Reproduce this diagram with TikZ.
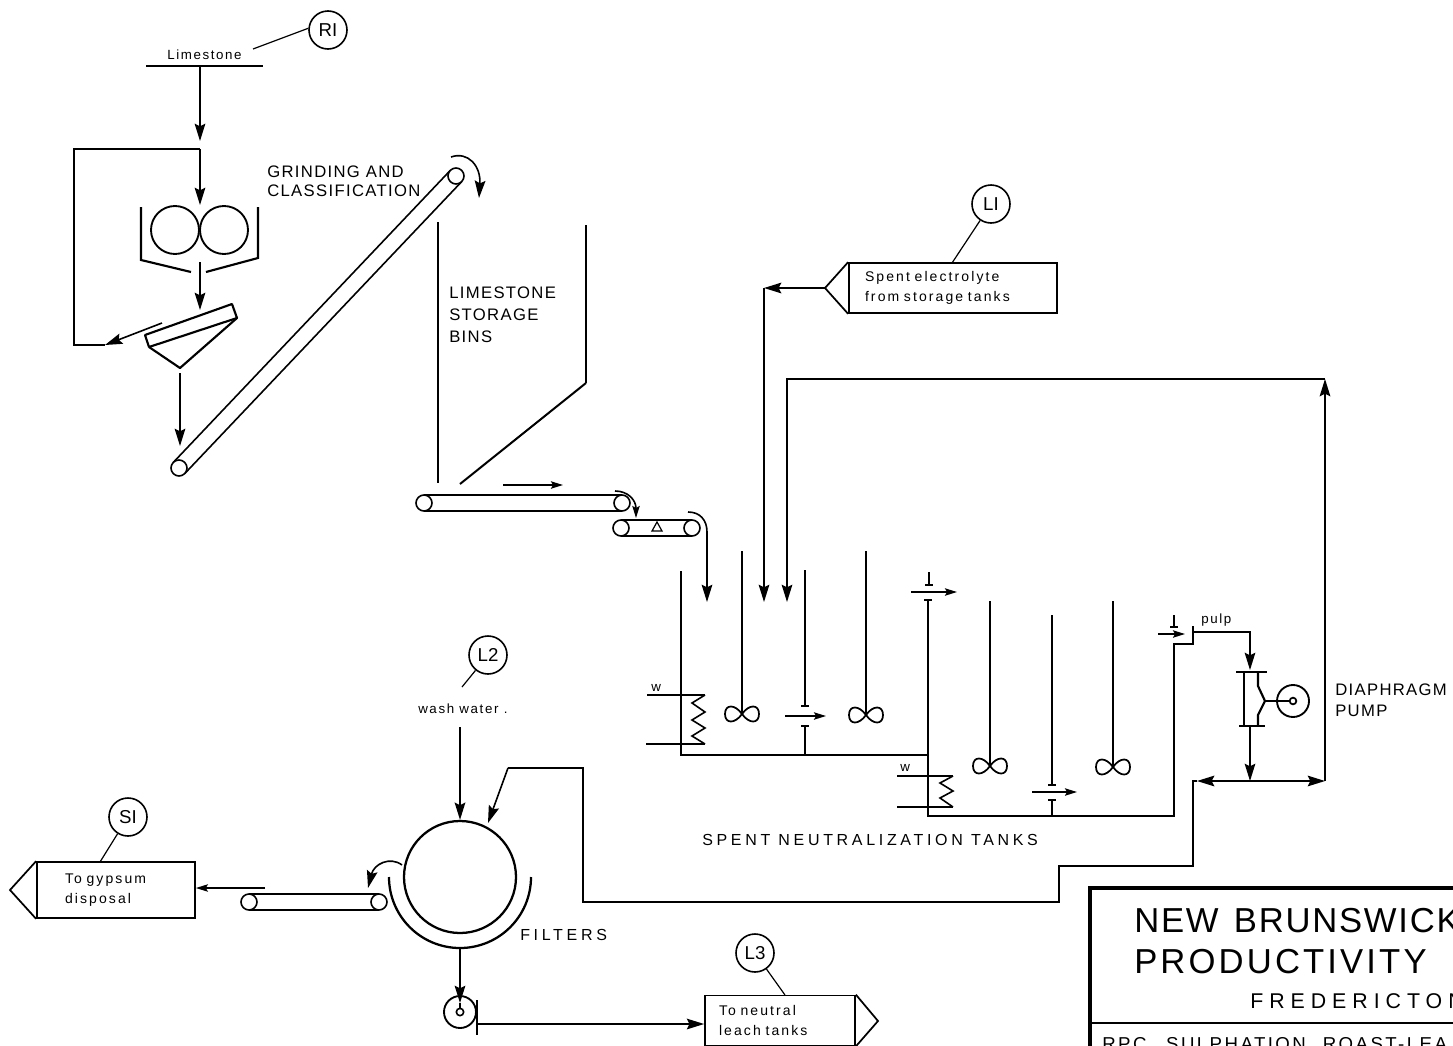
\documentclass[tikz,border=0pt]{standalone}
\usepackage{fontspec}
\usetikzlibrary{arrows.meta,calc}
\setmainfont{Liberation Sans}
\newfontfamily\capsf[LetterSpace=8]{Liberation Sans}
\newfontfamily\widef[LetterSpace=23]{Liberation Sans}
\newfontfamily\smallf[LetterSpace=12]{Liberation Sans}
\newfontfamily\boxf[LetterSpace=15]{Liberation Sans}
\newfontfamily\titlef[LetterSpace=9]{Liberation Sans}
\newfontfamily\titleaf[LetterSpace=5]{Liberation Sans}
\newfontfamily\subf[LetterSpace=28]{Liberation Sans}
\newfontfamily\rpcf[LetterSpace=13]{Liberation Sans}
\tikzset{
  ln/.style={line width=1.2pt,black},
  thin line/.style={line width=0.9pt,black},
  wall/.style={line width=2.1pt,black},
  serif/.style={line width=1.3pt,black},
  flow/.style={ln,-{Stealth[length=13pt,width=8pt,inset=2pt]}},
  flowsmall/.style={ln,-{Stealth[length=9pt,width=5.5pt,inset=1.5pt]}},
  roller/.style={circle,draw,line width=1.2pt,inner sep=0pt,minimum size=12pt,fill=white},
  tag/.style={circle,draw,line width=1.2pt,inner sep=0pt,minimum size=28.5pt,font=\fontsize{14}{16}\selectfont},
  bigcirc/.style={circle,draw,line width=1.4pt,inner sep=0pt},
  caps/.style={anchor=base west,inner sep=0pt,font=\fontsize{12.5}{15}\capsf},
  wide/.style={anchor=base west,inner sep=0pt,font=\fontsize{12}{14}\widef},
  small/.style={anchor=base west,inner sep=0pt,font=\fontsize{10}{12}\smallf},
  tagbox/.style={draw,line width=1.3pt,inner ysep=0pt,align=left,
     font=\fontsize{10.5}{15}\boxf,minimum height=37.5pt},
  title/.style={anchor=base west,inner sep=0pt,font=\fontsize{26}{30}\titlef},
  impeller/.pic={\draw[line width=1.3pt] (0,0) .. controls (7,-10) and (17,-10) .. (17,0)
      .. controls (17,10) and (7,10) .. (0,0) .. controls (-7,-10) and (-17,-10) .. (-17,0)
      .. controls (-17,10) and (-7,10) .. (0,0) -- cycle;},
}
\begin{document}
\begin{tikzpicture}[x=0.75pt,y=-0.75pt]
\useasboundingbox (0,0) rectangle (1453,1046);
\clip (0,0) rectangle (1453,1046);

% ---------- limestone feed and grinding ----------
\node[small] (limestone) at (167,59) {Limestone};
\node[tag] (R1) at (328,30) {RI};
\coordinate (limeTagEnd) at (253,49);
\draw[thin line] (limeTagEnd) -- (R1.175);
\coordinate (barL) at (146,66); \coordinate (barR) at (263,66); \coordinate (barMid) at (200,66);
\draw[ln] (barL) -- (barR);
\coordinate (feedTip) at (200,141);
\draw[flow] (barMid) -- (feedTip);
\coordinate (millTip) at (200,205);
\coordinate (recTopR) at (200,149); \coordinate (recTopL) at (74,149);
\coordinate (recBotL) at (74,345); \coordinate (recBotR) at (105,345);
\coordinate (screenOut) at (162,323);
\draw[flow] (recTopR) -- (millTip);
\draw[ln] (recTopR) -- (recTopL) -- (recBotL) -- (recBotR);
\draw[flow] (screenOut) -- (recBotR);
\node[bigcirc,minimum size=36pt] (rollA) at (175,230) {};
\node[bigcirc,minimum size=36pt] (rollB) at (224,230) {};
\draw[wall,line width=1.6pt] (141,207) -- (141,260) -- (191,272);
\draw[wall,line width=1.6pt] (258,207) -- (258,258) -- (206,272);
\coordinate (millOut) at (200,262); \coordinate (screenTip) at (200,310);
\draw[flow] (millOut) -- (screenTip);
\draw[wall,line width=1.6pt,line join=round] (145,335) -- (232,304) -- (237,318) -- (149,347) -- cycle;
\draw[wall,line width=1.6pt,line join=round] (149,347) -- (180,368) -- (237,318);
\coordinate (hopOut) at (180,373); \coordinate (belt1Tip) at (180,446);
\draw[flow] (hopOut) -- (belt1Tip);

% ---------- inclined conveyor ----------
\draw[ln] (179,468)++(-5.8,-5.5) -- ++(277,-292);
\draw[ln] (179,468)++(5.8,5.5) -- ++(277,-292);
\node[roller] (incLow) at (179,468) {};
\node[roller] (incHigh) at (456,176) {};
\coordinate (incArcA) at (451,157); \coordinate (incArcB) at (479,198);
\draw[flow] (incArcA) .. controls (468,151) and (481,166) .. (incArcB);
\node[caps] (grind1) at (267,177) {GRINDING AND};
\node[caps] (grind2) at (267,196) {CLASSIFICATION};

% ---------- storage bin ----------
\draw[wall] (438,222) -- (438,483);
\draw[wall] (586,225) -- (586,383);
\draw[ln,line width=1.5pt] (586,383) -- (460,484);
\node[caps] (bin1) at (449,298) {LIMESTONE};
\node[caps] (bin2) at (449,320) {STORAGE};
\node[caps] (bin3) at (449,342) {BINS};

% ---------- horizontal conveyors ----------
\draw[ln] (424,495) -- (622,495); \draw[ln] (424,511) -- (622,511);
\node[roller] (beltA1) at (424,503) {};
\node[roller] (beltA2) at (622,503) {};
\coordinate (dirA) at (503,485); \coordinate (dirB) at (563,485);
\draw[flowsmall] (dirA) -- (dirB);
\coordinate (arcC) at (615,491); \coordinate (arcD) at (636,518);
\draw[flowsmall] (arcC) .. controls (628,491) and (636,500) .. (arcD);
\draw[ln] (621,520) -- (692,520); \draw[ln] (621,536) -- (692,536);
\node[roller] (beltB1) at (621,528) {};
\node[roller] (beltB2) at (692,528) {};
\draw[thin line] (652,531) -- (657,522) -- (662,531) -- cycle;
\coordinate (arcE) at (688,512); \coordinate (tankTip) at (707,602);
\draw[flow] (arcE) .. controls (700,512) and (707,520) .. (707,532) -- (tankTip);

% ---------- first tank ----------
\draw[wall] (681,571) -- (681,755) -- (928,755);
\draw[wall] (742,551) -- (742,714);
\draw[wall] (866,551) -- (866,715);
\draw[wall] (805,570) -- (805,706);
\draw[serif] (801,706) -- (809,706);
\draw[serif] (801,726) -- (809,726);
\draw[wall] (805,726) -- (805,755);
\pic at (742,714) {impeller};
\pic at (866,715) {impeller};
\coordinate (bafA) at (785,716); \coordinate (bafB) at (826,716);
\draw[flowsmall] (bafA) -- (bafB);
\node[small] (w1) at (651,691) {w};
\draw[ln] (647,695) -- (705,695);
\draw[ln] (646,744) -- (705,744);
\draw[ln] (705,695) -- (692,703) -- (705,712) -- (692,720) -- (705,728) -- (692,736) -- (705,744);

% ---------- second tank ----------
\draw[wall] (928,600) -- (928,816) -- (1174,816) -- (1174,644) -- (1193,644) -- (1193,626);
\draw[serif] (924,600) -- (932,600);
\draw[wall] (929,572) -- (929,585);
\draw[serif] (925,585) -- (933,585);
\coordinate (overA) at (911,592); \coordinate (overB) at (957,592);
\draw[flowsmall] (overA) -- (overB);
\draw[wall] (990,601) -- (990,766);
\draw[wall] (1113,601) -- (1113,767);
\draw[wall] (1052,615) -- (1052,785);
\draw[serif] (1048,785) -- (1056,785);
\draw[serif] (1048,800) -- (1056,800);
\draw[wall] (1052,800) -- (1052,816);
\pic at (990,766) {impeller};
\pic at (1113,767) {impeller};
\coordinate (baf2A) at (1032,792); \coordinate (baf2B) at (1077,792);
\draw[flowsmall] (baf2A) -- (baf2B);
\node[small] (w2) at (900,771) {w};
\draw[ln] (897,776) -- (953,776);
\draw[ln] (897,807) -- (953,807);
\draw[ln] (953,776) -- (940,783) -- (953,791) -- (940,798) -- (953,807);
\draw[wall] (1174,615) -- (1174,627);
\draw[serif] (1170,627) -- (1178,627);
\coordinate (weirA) at (1158,634); \coordinate (weirB) at (1185,634);
\draw[flowsmall] (weirA) -- (weirB);
\node[wide] (tankslabel) at (702,845) {SPENT NEUTRALIZATION TANKS};

% ---------- diaphragm pump ----------
\node[small] (pulp) at (1201,623) {pulp};
\coordinate (pipeA) at (1193,632); \coordinate (pipeB) at (1250,632); \coordinate (pumpIn) at (1250,670);
\draw[flow] (pipeA) -- (pipeB) -- (pumpIn);
\draw[wall,line width=1.5pt] (1236,672) -- (1267,672);
\draw[wall,line width=1.5pt] (1239,726) -- (1265,726);
\draw[wall] (1244,672) -- (1244,726);
\draw[wall,line width=1.6pt] (1258,672) -- (1258,686) -- (1265,701) -- (1258,715) -- (1258,726);
\node[bigcirc,minimum size=24pt] (pumpWheel) at (1293,701) {};
\node[circle,draw,line width=1.3pt,inner sep=0pt,minimum size=5pt] (pumpHub) at (1293,701) {};
\coordinate (pumpRod) at (1265,701);
\draw[ln] (pumpRod) -- (pumpHub);
\node[caps] (dia1) at (1335,695) {DIAPHRAGM};
\node[caps] (dia2) at (1335,716) {PUMP};
\coordinate (pumpOut) at (1250,726); \coordinate (jn) at (1250,781);
\draw[flow] (pumpOut) -- (jn);
\coordinate (recycleCorner) at (1325,781); \coordinate (recycleTop) at (1325,379);
\coordinate (leftTip) at (1197,781); \coordinate (leftCorner) at (1193,781);
\draw[flow] (jn) -- (recycleCorner);
\draw[flow] (jn) -- (leftTip);
\coordinate (spentTip) at (787,602); \coordinate (spentCorner) at (787,379);
\draw[flow] (recycleCorner) -- (recycleTop);
\draw[flow] (recycleTop) -- (spentCorner) -- (spentTip);

% ---------- electrolyte box ----------
\node[tagbox,inner xsep=12pt,minimum width=156pt,text width=132pt] (L1box) at (953,288) {Spent electrolyte\\from storage tanks};
\coordinate (L1point) at (825,288);
\draw[line width=1.3pt] (L1box.north west) -- (L1point) -- (L1box.south west);
\node[tag] (L1) at (991,204) {LI};
\coordinate (L1foot) at (952,263);
\draw[thin line] (L1) -- (L1foot);
\coordinate (elecCorner) at (764,288); \coordinate (elecTip) at (764,602);
\draw[flow] (L1point) -- (elecCorner);
\draw[flow] (elecCorner) -- (elecTip);

% ---------- filter ----------
\node[tag] (L2) at (488,655) {L2};
\coordinate (L2foot) at (462,687);
\draw[thin line] (L2) -- (L2foot);
\node[small] (wash) at (418,713) {wash water .};
\node[bigcirc,minimum size=84pt,line width=1.7pt] (drum) at (460,877) {};
\draw[line width=1.7pt] (389,877) arc[start angle=180,end angle=360,radius=53.25pt];
\coordinate (washStart) at (460,727);
\draw[flow] (washStart) -- (drum.north);
\draw[ln] (leftTip) -- (leftCorner) -- (1193,866) -- (1059,866) -- (1059,902) -- (583,902) -- (583,768) -- (508,768) coordinate (recIn);
\coordinate (drumIn) at (488,823);
\draw[flow] (recIn) -- (drumIn);
\node[wide] (filters) at (520,940) {FILTERS};

% ---------- gypsum conveyor ----------
\draw[ln] (249,894) -- (379,894); \draw[ln] (249,910) -- (379,910);
\node[roller] (beltC1) at (249,902) {};
\node[roller] (beltC2) at (379,902) {};
\coordinate (cakeA) at (402,865); \coordinate (cakeB) at (368,888);
\draw[flow] (cakeA) .. controls (390,856) and (374,864) .. (cakeB);
\coordinate (gypA) at (265,888);
\node[tagbox,inner xsep=21pt,minimum width=118.5pt,minimum height=42pt,text width=76.5pt] (S1box) at (116,890) {To gypsum\\disposal};
\draw[flowsmall] (gypA) -- (S1box.east |- gypA);
\coordinate (S1point) at (10,890);
\draw[line width=1.3pt] (S1box.north west) -- (S1point) -- (S1box.south west);
\node[tag] (S1) at (128,817) {SI};
\coordinate (S1foot) at (100,862);
\draw[thin line] (S1) -- (S1foot);

% ---------- filtrate pump ----------
\node[bigcirc,minimum size=24pt] (fpump) at (460,1012) {};
\node[circle,draw,line width=1.2pt,inner sep=0pt,minimum size=5.5pt,fill=white] (fhub) at (460,1012) {};
\coordinate (drumOut) at (460,948); \coordinate (fTip) at (460,1003);
\draw[flow] (drumOut) -- (fTip);
\draw[ln] (fTip) -- (fhub);
\draw[ln] (477,1000) -- (477,1035);
\node[tagbox,inner xsep=10.5pt,minimum width=112.5pt,text width=91.5pt] (L3box) at (780,1020.5) {To neutral\\leach tanks};
\coordinate (pipeStart) at (477,1024);
\draw[flow] (pipeStart) -- (L3box.west |- pipeStart);
\coordinate (L3point) at (878,1021);
\draw[line width=1.3pt] (L3box.north east) -- (L3point) -- (L3box.south east);
\node[tag] (L3) at (755,953) {L3};
\coordinate (L3foot) at (785,995);
\draw[thin line] (L3) -- (L3foot);

% ---------- title block ----------
\draw[wall,line width=2.4pt] (1500,888) -- (1090,888) -- (1090,1060);
\draw[ln,line width=1.4pt] (1090,1023) -- (1500,1023);
\node[anchor=base west,inner sep=0pt,font=\fontsize{26}{30}\titleaf] (t1) at (1134,932) {NEW\hspace{3pt} BRUNSWICK};
\node[title] (t2) at (1134,973) {PRODUCTIVITY};
\node[anchor=base west,inner sep=0pt,font=\fontsize{16}{20}\subf] (t3) at (1250,1008) {FREDERICTON};
\node[anchor=base west,inner sep=0pt,font=\fontsize{14}{18}\rpcf] (t4) at (1102,1050) {RPC\hspace{9pt} SULPHATION\hspace{7pt} ROAST-LEA};
\end{tikzpicture}
\end{document}
